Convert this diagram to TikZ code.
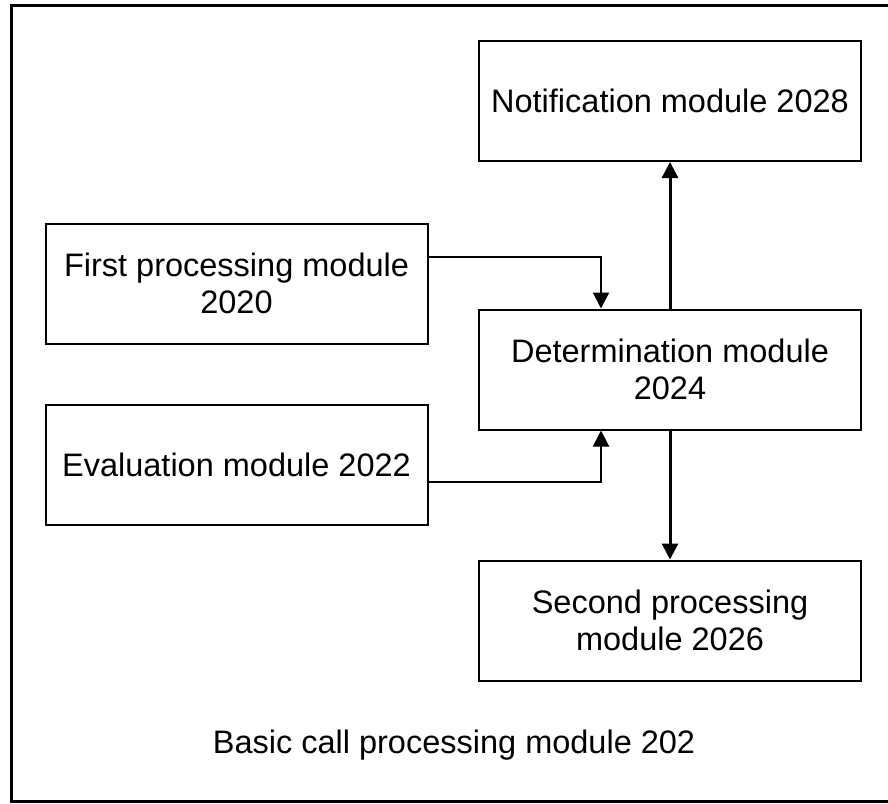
\documentclass[tikz,border=0pt]{standalone}
\usepackage{fontspec}
\setmainfont{Liberation Sans}
\usetikzlibrary{arrows.meta}

\begin{document}
\begin{tikzpicture}[x=1pt,y=-1pt,
    module/.style={draw,line width=2pt,align=center,inner sep=0pt,
      minimum width=382pt,minimum height=120pt,
      font=\fontsize{32.5}{37}\selectfont},
    link/.style={line width=2pt,-{Triangle[length=16pt,width=16pt]}},
    flow/.style={link,line width=3pt}]
    \useasboundingbox (0,0) rectangle (888,803);
    \draw[line width=3pt] (895,5) -- (11,5) -- (11,801) -- (895,801);
    \node[module] (notif) at (670,101) {Notification module 2028};
    \node[module] (first) at (236.5,283.5) {First processing module\\2020};
    \node[module] (det) at (670,369.5) {Determination module\\2024};
    \node[module] (eval) at (236.5,465) {Evaluation module 2022};
    \node[module] (second) at (670,620.5) {Second processing\\module 2026};
    \node[font=\fontsize{32.5}{37}\selectfont] (basic) at (454,745) {Basic call processing module 202};
    \draw[link] ([yshift=26.5pt]first.east) -| ([xshift=-69pt]det.north);
    \draw[link] ([yshift=-17pt]eval.east) -| ([xshift=-69pt]det.south);
    \draw[flow] (det.north) -- (notif.south);
    \draw[flow] (det.south) -- (second.north);
  \end{tikzpicture}
\end{document}
